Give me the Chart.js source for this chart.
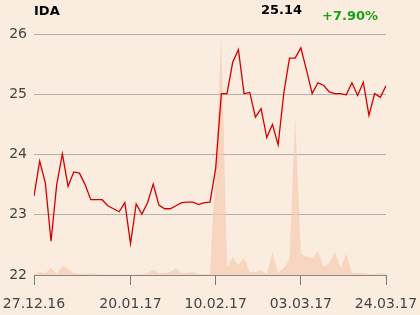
<!DOCTYPE html>
<html>
<head>
<meta charset="utf-8">
<script src="https://cdn.jsdelivr.net/npm/chart.js@4/dist/chart.umd.min.js"></script>
<style>
  body { margin: 0; background: #fbece0; }
  #wrap { position: relative; width: 420px; height: 315px; }
  canvas { position: absolute; left: 0; top: 0; }
  .hd { position: absolute; font: bold 13px 'DejaVu Sans'; line-height: 15px; white-space: nowrap; }
</style>
</head>
<body>
<div id="wrap">
  <canvas id="chart" width="420" height="315"></canvas>
  <div class="hd" id="title" style="left:34px; top:3px; color:#000">IDA</div>
  <div class="hd" id="last" style="right:118px; top:2px; color:#000">25.14</div>
  <div class="hd" id="chg" style="left:322px; top:8px; color:#17a317">+7.90%</div>
</div>
<script>
const ticker = 'IDA';
const lastPrice = '25.14';
const change = '+7.90%';

// closing prices, one per trading day from 27.12.16 to 24.03.17
const closes = [
  23.31, 23.89, 23.53, 22.56, 23.50, 24.01, 23.47, 23.71, 23.69, 23.50,
  23.25, 23.25, 23.25, 23.15, 23.10, 23.05, 23.20, 22.52, 23.18, 23.01,
  23.20, 23.51, 23.16, 23.10, 23.10, 23.15, 23.20, 23.21, 23.21, 23.17,
  23.20, 23.21, 23.77, 25.01, 25.01, 25.53, 25.74, 25.01, 25.03, 24.62,
  24.76, 24.28, 24.50, 24.16, 25.02, 25.60, 25.60, 25.77, 25.40, 25.01,
  25.19, 25.15, 25.04, 25.01, 25.01, 24.99, 25.19, 24.98, 25.20, 24.65,
  25.01, 24.95, 25.14
];

// traded volume (thousand shares), same days
const volumes = [
  0.5, 3, 2, 7, 1, 9, 6, 2, 1, 1,
  2, 1, 0.5, 0.5, 0.5, 0.5, 0.5, 0.5, 0.5, 0.5,
  2, 5, 2, 2, 3, 7, 2, 2, 3, 1,
  1, 0.5, 110, 237, 8, 18, 10, 17, 3, 3,
  5, 1, 22, 2, 7, 15, 157, 22, 18, 17,
  24, 8, 12, 23, 7, 21, 2, 2, 2, 1,
  1, 2, 1
];

const tickIndex = [0, 17, 32, 47, 62];
const tickLabels = ['27.12.16', '20.01.17', '10.02.17', '03.03.17', '24.03.17'];

const yTicks = [22, 23, 24, 25, 26];

document.getElementById('title').textContent = ticker;
document.getElementById('last').textContent = lastPrice;
document.getElementById('chg').textContent = change;

const priceData = closes.map((v, i) => ({ x: i, y: v }));
const volData = volumes.map((v, i) => ({ x: i, y: v }));

const ctx = document.getElementById('chart').getContext('2d');
new Chart(ctx, {
  type: 'line',
  data: {
    datasets: [
      {
        data: priceData,
        borderColor: '#d40000',
        borderWidth: 1.3,
        pointRadius: 0,
        tension: 0,
        fill: false,
        yAxisID: 'y',
        order: 1
      },
      {
        data: volData,
        borderWidth: 0,
        backgroundColor: 'rgba(245, 202, 172, 0.65)',
        pointRadius: 0,
        tension: 0,
        fill: 'origin',
        yAxisID: 'yv',
        order: 2
      }
    ]
  },
  options: {
    responsive: false,
    animation: false,
    layout: { padding: { top: 34, right: 34, left: 0, bottom: 0 } },
    plugins: { legend: { display: false }, tooltip: { enabled: false } },
    scales: {
      x: {
        type: 'linear',
        min: 0,
        max: closes.length - 1,
        afterBuildTicks: (scale) => { scale.ticks = tickIndex.map(v => ({ value: v })); },
        afterFit: (scale) => {
          scale.height = 40;
          scale.paddingLeft = 0;
          scale.paddingRight = 0;
        },
        ticks: {
          autoSkip: false,
          maxRotation: 0,
          padding: 11,
          color: '#444',
          font: { family: 'DejaVu Sans', size: 14 },
          callback: (v) => tickLabels[tickIndex.indexOf(v)]
        },
        grid: { drawOnChartArea: false, drawTicks: true, tickLength: 10, color: '#777', lineWidth: 1 },
        border: { display: true, color: '#888', width: 1 }
      },
      y: {
        min: 22,
        max: 26,
        afterBuildTicks: (scale) => { scale.ticks = yTicks.map(v => ({ value: v })); },
        afterFit: (scale) => { scale.width = 34; },
        ticks: {
          padding: 7,
          color: '#444',
          font: { family: 'DejaVu Sans', size: 14 }
        },
        grid: { drawTicks: false, color: '#b4b0ab', lineWidth: 1 },
        border: { display: false }
      },
      yv: {
        display: false,
        min: 0,
        max: 241
      }
    }
  }
});
</script>
</body>
</html>
